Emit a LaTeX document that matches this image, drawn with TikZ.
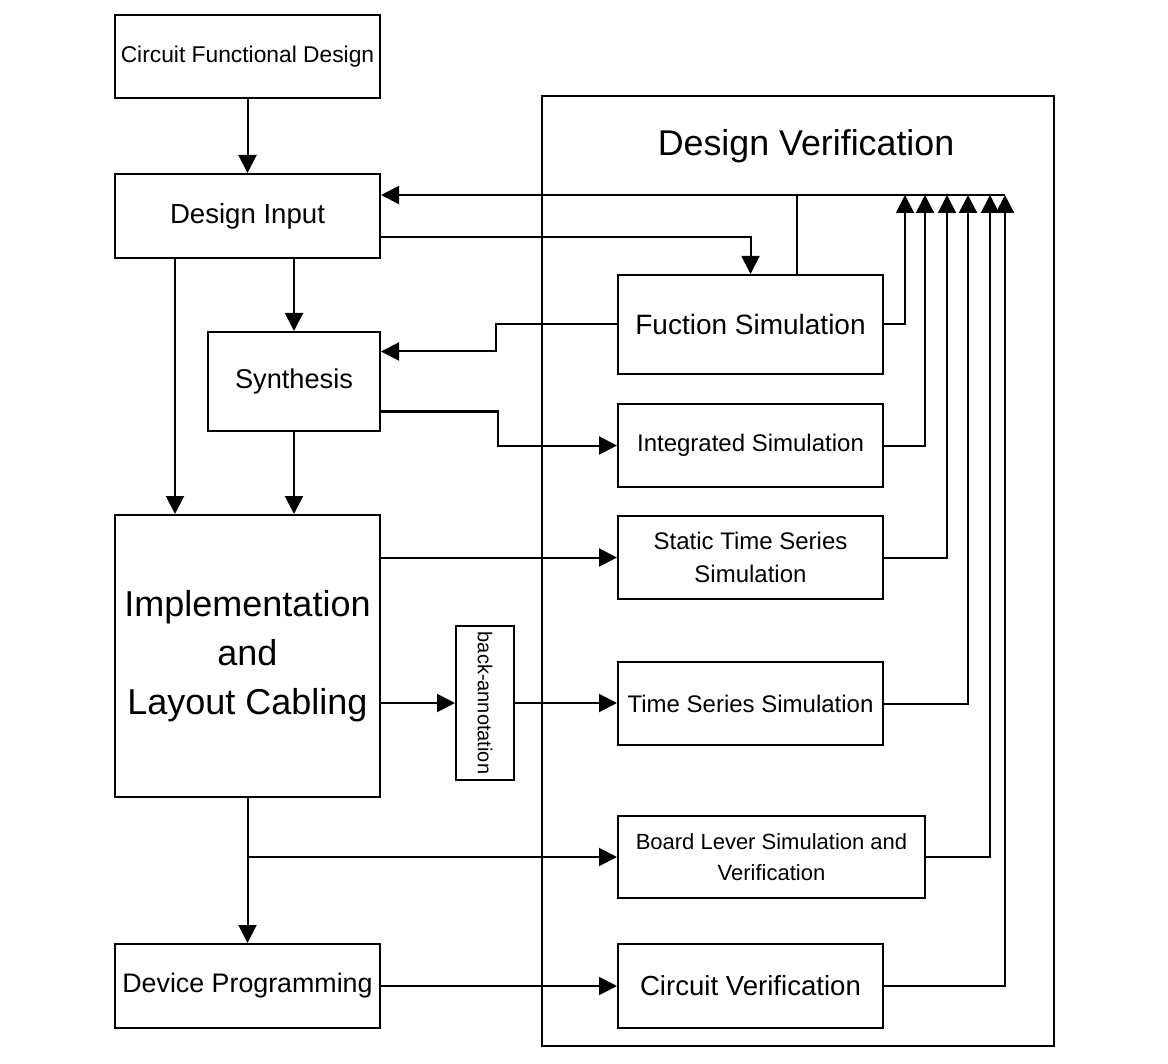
\documentclass[tikz,border=0pt]{standalone}
\usepackage{fontspec}
\setmainfont{Liberation Sans}
\usepackage{tikz}
\usetikzlibrary{calc}
\usetikzlibrary{positioning}
\usetikzlibrary{arrows.meta}

\begin{document}
\begin{tikzpicture}[x=0.5pt, y=-0.5pt,
		blk/.style={draw, line width=1pt, rectangle, inner sep=0pt, minimum width=132.5pt, align=center},
		arr/.style={line width=1pt, -{Triangle[length=9pt, width=9pt]}},
		wire/.style={line width=1pt}]
				\useasboundingbox (0,0) rectangle (1168,1064);
				\node[draw, line width=1pt, inner sep=0pt, minimum width=256pt, minimum height=475pt] (ver) at (798,571) {};
				\node[font=\fontsize{17.9}{21}\selectfont] (vertitle) at (806,146) {Design Verification};
				
				\node[blk, minimum height=41.5pt, font=\fontsize{11.4}{14}\selectfont] (cfd) at (247.5,56.5) {Circuit Functional Design};
				\node[blk, minimum height=42pt, font=\fontsize{13.8}{16}\selectfont] (di) at (247.5,216) {Design Input};
				\node[blk, minimum width=86pt, minimum height=49.5pt, font=\fontsize{13.6}{16}\selectfont] (syn) at (294,381.5) {Synthesis};
				\node[blk, minimum height=141pt, font=\fontsize{18}{24.5}\selectfont] (impl) at (247.5,656) {Implementation\\and\\Layout Cabling};
				\node[blk, minimum height=42pt, font=\fontsize{13.4}{16}\selectfont] (dp) at (247.5,986) {Device Programming};
				\node[blk, minimum width=29pt, minimum height=77pt, font=\fontsize{10}{12}\selectfont] (ba) at (485,703) {\rotatebox{-90}{back-annotation}};
				
				\node[blk, minimum height=49.5pt, font=\fontsize{14}{16}\selectfont] (fs) at (750.5,324.5) {Fuction Simulation};
				\node[blk, minimum height=41.5pt, font=\fontsize{12}{14}\selectfont] (is) at (750.5,445.5) {Integrated Simulation};
				\node[blk, minimum height=41.5pt, font=\fontsize{12}{16.5}\selectfont] (ss) at (750.5,557.5) {Static Time Series\\Simulation};
				\node[blk, minimum height=41.5pt, font=\fontsize{12}{14}\selectfont] (ts) at (750.5,703.5) {Time Series Simulation};
				\node[blk, minimum width=153.5pt, minimum height=41pt, font=\fontsize{11}{15.5}\selectfont] (bl) at (771.5,857) {Board Lever Simulation and\\Verification};
				\node[blk, minimum height=42pt, font=\fontsize{13.8}{16}\selectfont] (cv) at (750.5,986) {Circuit Verification};
				
				\coordinate (bus) at (1005,195);
				
				\draw[arr] (cfd) -- (di);
				\draw[arr] (bus) -- ([yshift=10.5pt]di.east);
				\draw[wire] ([xshift=23pt]fs.north) -- ([xshift=23pt]fs.north |- bus);
				\draw[arr] ([yshift=-10.5pt]di.east) -| (fs.north);
				\draw[arr] (syn.north |- di.south) -- (syn.north);
				\draw[arr] ([xshift=-36.25pt]di.south) -- ([xshift=-36.25pt]impl.north);
				\draw[arr] (syn.south) -- (syn.south |- impl.north);
				\draw[arr] (fs.west) -- ++(-121,0) |- ([yshift=15pt]syn.east);
				\draw[arr] ([yshift=-15pt]syn.east) -- ++(117,0) |- (is.west);
				\draw[arr] (impl.east |- ss.west) -- (ss.west);
				\draw[arr] (impl.east |- ba.west) -- (ba.west);
				\draw[arr] (ba.east) -- (ba.east -| ts.west);
				\draw[arr] (impl.south) -- (dp.north);
				\draw[arr] (impl.south |- bl.west) -- (bl.west);
				\draw[arr] (dp.east) -- (cv.west);
				
				\foreach \n/\x in {fs/905, is/925, ss/947, ts/968, bl/990, cv/1005} {
					\coordinate (up\n) at (\x,195);
					\draw[arr] (\n.east) -| (up\n);
				}
			\end{tikzpicture}
\end{document}
